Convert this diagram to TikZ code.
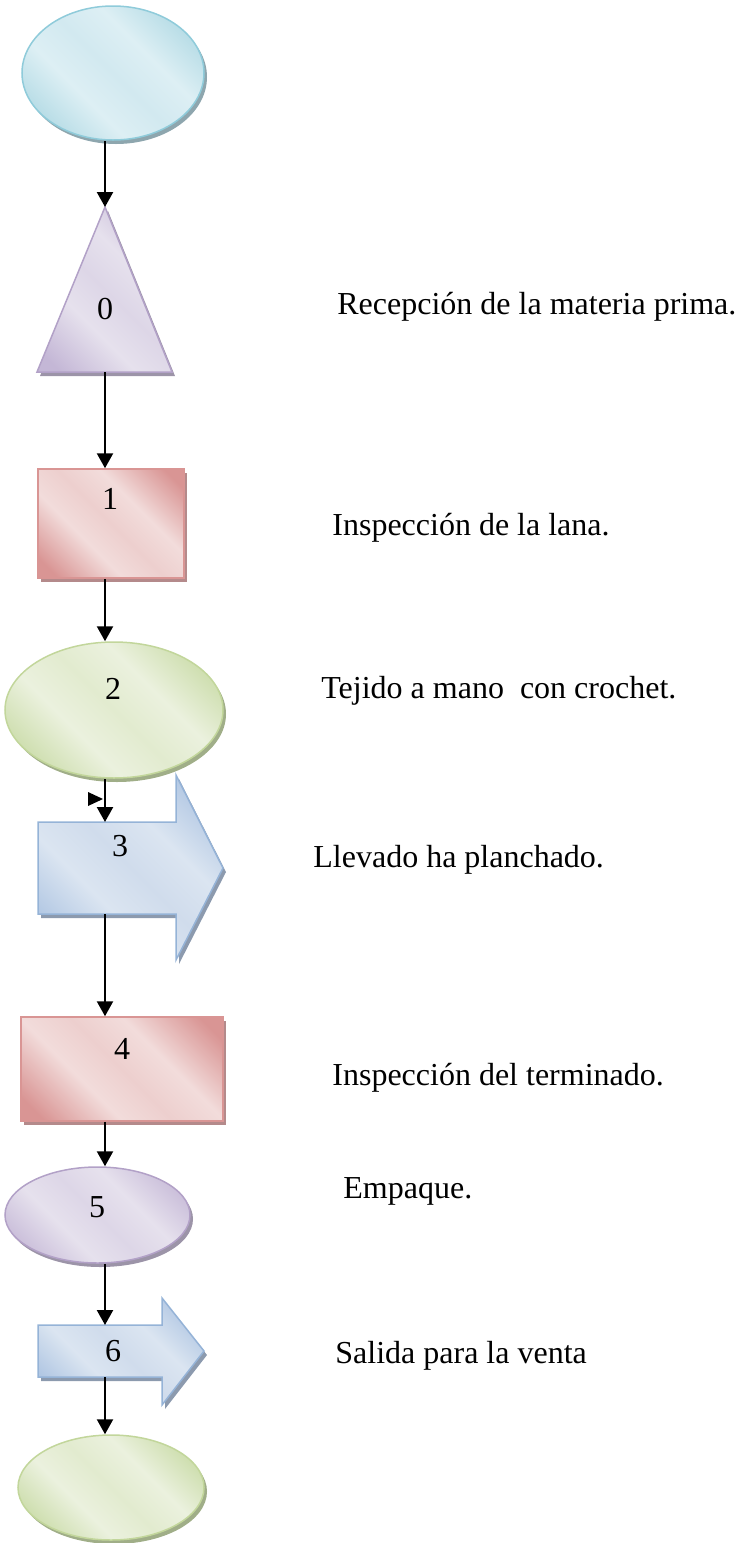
\documentclass[tikz,border=0pt]{standalone}
\usepackage{fontspec}
\setmainfont{Liberation Serif}
\usetikzlibrary{arrows.meta,shapes.geometric,shadows}

\definecolor{cyB}{HTML}{8FCBDA}
\definecolor{cyD}{HTML}{ACD7E2}
\definecolor{cyL}{HTML}{DDEFF4}
\definecolor{cyM}{HTML}{D2E9F0}
\definecolor{cyS}{HTML}{8EA6AE}

\definecolor{puB}{HTML}{B2A1C7}
\definecolor{puD}{HTML}{C4B7D6}
\definecolor{puL}{HTML}{E6E1ED}
\definecolor{puM}{HTML}{DDD6E7}
\definecolor{puS}{HTML}{9C94A8}

\definecolor{reB}{HTML}{D99594}
\definecolor{reD}{HTML}{D99594}
\definecolor{reL}{HTML}{F2DCDB}
\definecolor{reM}{HTML}{EDCFCE}
\definecolor{reS}{HTML}{B48A8B}

\definecolor{grB}{HTML}{C2D69B}
\definecolor{grD}{HTML}{C6D9A2}
\definecolor{grL}{HTML}{EBF1DE}
\definecolor{grM}{HTML}{E2EBCF}
\definecolor{grS}{HTML}{A0AE88}

\definecolor{blB}{HTML}{95B3D7}
\definecolor{blD}{HTML}{A9C1E0}
\definecolor{blL}{HTML}{DBE5F1}
\definecolor{blM}{HTML}{D0DCEC}
\definecolor{blS}{HTML}{8C9AAE}

\pgfdeclarehorizontalshading{shcy}{100bp}{color(0bp)=(cyD); color(20bp)=(cyD); color(38bp)=(cyL); color(50bp)=(cyM); color(62bp)=(cyL); color(80bp)=(cyD); color(100bp)=(cyD)}
\pgfdeclarehorizontalshading{shpu}{100bp}{color(0bp)=(puD); color(20bp)=(puD); color(38bp)=(puL); color(50bp)=(puM); color(62bp)=(puL); color(80bp)=(puD); color(100bp)=(puD)}
\pgfdeclarehorizontalshading{shre}{100bp}{color(0bp)=(reD); color(20bp)=(reD); color(38bp)=(reL); color(50bp)=(reM); color(62bp)=(reL); color(80bp)=(reD); color(100bp)=(reD)}
\pgfdeclarehorizontalshading{shgr}{100bp}{color(0bp)=(grD); color(20bp)=(grD); color(38bp)=(grL); color(50bp)=(grM); color(62bp)=(grL); color(80bp)=(grD); color(100bp)=(grD)}
\pgfdeclarehorizontalshading{shbl}{100bp}{color(0bp)=(blD); color(20bp)=(blD); color(38bp)=(blL); color(50bp)=(blM); color(62bp)=(blL); color(80bp)=(blD); color(100bp)=(blD)}

\tikzset{
  shp/.style={line width=0.75pt, inner sep=0pt, shade, shading angle=45},
  cyanshape/.style={shp, draw=cyB, shading=shcy, drop shadow={shadow xshift=1.5pt, shadow yshift=-2pt, fill=cyS, opacity=1}},
  purpleshape/.style={shp, draw=puB, shading=shpu, drop shadow={shadow xshift=1.5pt, shadow yshift=-2pt, fill=puS, opacity=1}},
  redshape/.style={shp, draw=reB, shading=shre, drop shadow={shadow xshift=1.5pt, shadow yshift=-2pt, fill=reS, opacity=1}},
  greenshape/.style={shp, draw=grB, shading=shgr, drop shadow={shadow xshift=1.5pt, shadow yshift=-2pt, fill=grS, opacity=1}},
  blueshape/.style={shp, draw=blB, shading=shbl, drop shadow={shadow xshift=1.5pt, shadow yshift=-2pt, fill=blS, opacity=1}},
  conn/.style={line width=1.15pt, -{Triangle[width=8pt,length=7.5pt]}},
  num/.style={inner sep=0pt, font=\fontsize{16}{19}\selectfont},
  lbl/.style={inner sep=0pt, anchor=base west, font=\fontsize{16}{19}\selectfont}
}

\begin{document}
\begin{tikzpicture}[x=0.5pt, y=-0.5pt]
\useasboundingbox (0,0) rectangle (736,1543);
\coordinate (sp) at (105,0);

% shapes
\node[cyanshape, ellipse, minimum width=91pt, minimum height=67pt] (e0) at (113,73) {};

\coordinate (t0top) at (105,207);
\coordinate (t0l) at (37,372);
\coordinate (t0r) at (172,372);
\coordinate (t0bot) at (105,372);
\path[purpleshape] (t0top) -- (t0r) -- (t0l) -- cycle;
\node[num] (n0) at (105,309) {0};

\node[redshape, rectangle, minimum width=73pt, minimum height=54.5pt] (r1) at (111,523.5) {};
\node[num] (n1) at (110,499) {1};

\node[greenshape, ellipse, minimum width=109pt, minimum height=68pt] (e2) at (114,710) {};
\node[num] (n2) at (113,689) {2};

\coordinate (a3top) at (105,822);
\coordinate (a3bot) at (105,914);
\path[blueshape] (38,822) -- (176,822) -- (176,775) -- (223,868) -- (176,960) -- (176,914) -- (38,914) -- cycle;
\node[num] (n3) at (120,846) {3};

\node[redshape, rectangle, minimum width=101pt, minimum height=52pt] (r4) at (122,1069) {};
\node[num] (n4) at (122,1049) {4};

\node[purpleshape, ellipse, minimum width=92.5pt, minimum height=48pt] (e5) at (97.5,1215) {};
\node[num] (n5) at (97,1207.5) {5};

\coordinate (a6top) at (105,1325);
\coordinate (a6bot) at (105,1377);
\path[blueshape] (38,1325) -- (162,1325) -- (162,1298) -- (204,1351) -- (162,1405) -- (162,1377) -- (38,1377) -- cycle;
\node[num] (n6) at (113,1351) {6};

\node[greenshape, ellipse, minimum width=93pt, minimum height=52.5pt] (e7) at (111,1487.5) {};

% connectors
\draw[conn] (e0.south -| sp) -- (t0top);
\draw[conn] (t0bot) -- (r1.north -| sp);
\draw[conn] (r1.south -| sp) -- (e2.north -| sp);
\draw[conn] (e2.south -| sp) -- (a3top);
\draw[conn] (a3bot) -- (r4.north -| sp);
\draw[conn] (r4.south -| sp) -- (e5.north -| sp);
\draw[conn] (e5.south -| sp) -- (a6top);
\draw[conn] (a6bot) -- (e7.north -| sp);

% stray marker
\fill (88,792) -- (88,806) -- (103,799) -- cycle;

% labels
\node[lbl] (L0) at (337,314) {Recepción de la materia prima.};
\node[lbl] (L1) at (332,535) {Inspección de la lana.};
\node[lbl] (L2) at (321,698) {Tejido a mano\ \ con crochet.};
\node[lbl] (L3) at (313,867) {Llevado ha planchado.};
\node[lbl] (L4) at (332,1085) {Inspección del terminado.};
\node[lbl] (L5) at (343,1198) {Empaque.};
\node[lbl] (L6) at (335,1363) {Salida para la venta};
\end{tikzpicture}
\end{document}
